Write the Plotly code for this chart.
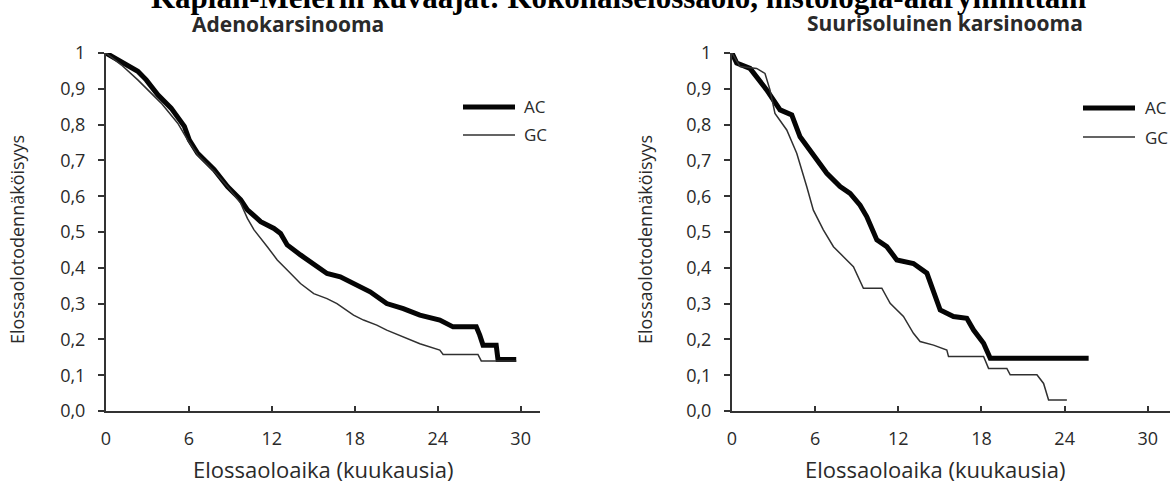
import plotly.graph_objects as go

# ---- data (months, survival probability) ----
adeno_ac_t = [0, 1.10, 2.30, 2.91, 3.75, 4.71, 5.67, 6.03, 6.63, 7.83, 8.79, 9.75, 10.23, 11.19, 12.15, 12.63,
              13.11, 14.07, 15.03, 15.99, 16.95, 17.91, 19.11, 20.31, 21.51, 22.71, 24.15, 25.11, 26.79, 27.04,
              27.28, 28.23, 28.36, 29.68]
adeno_ac_s = [1.0, 0.977, 0.949, 0.925, 0.883, 0.846, 0.795, 0.757, 0.720, 0.674, 0.627, 0.590, 0.562, 0.529,
              0.510, 0.496, 0.464, 0.436, 0.408, 0.384, 0.375, 0.356, 0.333, 0.300, 0.286, 0.268, 0.254, 0.235,
              0.235, 0.212, 0.184, 0.184, 0.144, 0.144]
adeno_gc_t = [0, 1.10, 2.30, 3.03, 3.99, 5.19, 5.91, 6.63, 7.83, 8.79, 9.75, 10.23, 10.71, 11.67, 12.39, 13.11,
              14.07, 15.03, 15.99, 16.71, 17.91, 18.63, 19.59, 20.31, 21.51, 22.71, 24.15, 24.39, 26.91, 27.15,
              29.68]
adeno_gc_s = [1.0, 0.967, 0.925, 0.897, 0.860, 0.804, 0.757, 0.715, 0.669, 0.627, 0.580, 0.538, 0.506, 0.459,
              0.422, 0.394, 0.356, 0.328, 0.314, 0.300, 0.268, 0.254, 0.240, 0.226, 0.207, 0.188, 0.170, 0.158,
              0.158, 0.140, 0.140]

large_ac_t = [0, 0.34, 1.30, 1.90, 2.50, 3.47, 4.31, 4.91, 6.11, 6.84, 7.80, 8.52, 9.24, 9.72, 10.45, 11.17,
              11.89, 13.09, 14.06, 14.54, 15.02, 15.98, 16.94, 17.43, 18.15, 18.63, 25.73]
large_ac_s = [1.0, 0.972, 0.957, 0.929, 0.897, 0.841, 0.827, 0.766, 0.706, 0.664, 0.627, 0.608, 0.575, 0.543,
              0.478, 0.459, 0.422, 0.412, 0.385, 0.329, 0.282, 0.264, 0.259, 0.226, 0.189, 0.147, 0.147]
large_gc_t = [0, 0.58, 1.78, 2.38, 2.74, 3.10, 3.95, 4.67, 5.39, 5.87, 6.59, 7.32, 8.04, 8.76, 9.48, 10.81,
              11.41, 12.37, 13.09, 13.57, 14.54, 15.50, 15.62, 18.15, 18.51, 19.83, 20.07, 22.00, 22.48, 22.84,
              24.16]
large_gc_s = [1.0, 0.962, 0.957, 0.943, 0.897, 0.831, 0.785, 0.720, 0.627, 0.561, 0.506, 0.459, 0.431, 0.403,
              0.343, 0.343, 0.301, 0.264, 0.217, 0.194, 0.184, 0.170, 0.152, 0.152, 0.119, 0.119, 0.101, 0.101,
              0.077, 0.031, 0.031]

series_names = ["AC", "GC"]
x_ticks = [0, 6, 12, 18, 24, 30]
y_ticks = [0, 0.1, 0.2, 0.3, 0.4, 0.5, 0.6, 0.7, 0.8, 0.9, 1.0]
y_tick_text = ["0,0", "0,1", "0,2", "0,3", "0,4", "0,5", "0,6", "0,7", "0,8", "0,9", "1"]

main_title = "Kaplan-Meierin kuvaajat: Kokonaiselossaolo, histologia-alaryhmittäin"
panel_titles = ["Adenokarsinooma", "Suurisoluinen karsinooma"]
x_title = "Elossaoloaika (kuukausia)"
y_title = "Elossaolotodennäköisyys"

W, H = 1170, 487
FONT = "Open Sans"
TXT = "#2a2a2a"
AC_COLOR, GC_COLOR = "#050505", "#303030"
AC_WIDTH, GC_WIDTH = 5, 1.5

fig = go.Figure()
panels = [
    (adeno_ac_t, adeno_ac_s, adeno_gc_t, adeno_gc_s, "x", "y"),
    (large_ac_t, large_ac_s, large_gc_t, large_gc_s, "x2", "y2"),
]
for act, acs, gct, gcs, xa, ya in panels:
    fig.add_trace(go.Scatter(x=act, y=acs, mode="lines", name=series_names[0], xaxis=xa, yaxis=ya,
                             showlegend=False, line=dict(color=AC_COLOR, width=AC_WIDTH), cliponaxis=False))
    fig.add_trace(go.Scatter(x=gct, y=gcs, mode="lines", name=series_names[1], xaxis=xa, yaxis=ya,
                             showlegend=False, line=dict(color=GC_COLOR, width=GC_WIDTH), cliponaxis=False))

ydom = [76 / H, 434 / H]
axis_common = dict(showline=True, linecolor="#333", linewidth=2, showgrid=False, zeroline=False,
                   automargin=False, tickcolor="#333", tickwidth=1.5,
                   tickfont=dict(family=FONT, size=18, color=TXT))

fig.update_layout(
    template="none",
    width=W, height=H,
    margin=dict(l=0, r=0, t=0, b=0, pad=0),
    paper_bgcolor="white", plot_bgcolor="white",
    showlegend=False,
    xaxis=dict(domain=[106 / W, 540 / W], range=[0, 31.4], anchor="y", tickvals=x_ticks,
               ticks="inside", ticklen=5, ticklabelstandoff=10, **axis_common),
    yaxis=dict(domain=ydom, range=[0, 1], anchor="x", tickvals=y_ticks, ticktext=y_tick_text,
               ticks="outside", ticklen=6, ticklabelstandoff=9, **axis_common),
    xaxis2=dict(domain=[732 / W, 1.0], range=[0, 31.6], anchor="y2", tickvals=x_ticks,
                ticks="inside", ticklen=5, ticklabelstandoff=10, **axis_common),
    yaxis2=dict(domain=ydom, range=[0, 1], anchor="x2", tickvals=y_ticks, ticktext=y_tick_text,
                ticks="outside", ticklen=6, ticklabelstandoff=9, **axis_common),
)

ann = []
shapes = []
ann.append(dict(text="<b>" + main_title + "</b>", x=618 / W, y=1 - 17 / H, xref="paper", yref="paper",
                xanchor="center", yanchor="bottom", showarrow=False,
                font=dict(family="Liberation Serif", size=31, color="black")))
for cx, cy, t in ((288, 24, panel_titles[0]), (945, 23, panel_titles[1])):
    ann.append(dict(text="<b>" + t + "</b>", x=cx / W, y=1 - cy / H, xref="paper", yref="paper",
                    xanchor="center", yanchor="middle", showarrow=False,
                    font=dict(family=FONT, size=21, color=TXT)))
for cx in (323, 935):
    ann.append(dict(text=x_title, x=cx / W, y=1 - 469 / H, xref="paper", yref="paper",
                    xanchor="center", yanchor="middle", showarrow=False,
                    font=dict(family=FONT, size=22, color=TXT)))
for cx in (17, 645):
    ann.append(dict(text=y_title, x=cx / W, y=1 - 240 / H, xref="paper", yref="paper", textangle=-90,
                    xanchor="center", yanchor="middle", showarrow=False,
                    font=dict(family=FONT, size=18, color=TXT)))

# legend keys (one per panel): line sample + label
legend_spots = [(463, 515, 522, 107, 135), (1083, 1135, 1143, 108, 137)]
for x0, x1, tx, y_ac, y_gc in legend_spots:
    for name, yy, col, wd in ((series_names[0], y_ac, AC_COLOR, AC_WIDTH), (series_names[1], y_gc, GC_COLOR, GC_WIDTH)):
        shapes.append(dict(type="line", xref="paper", yref="paper", x0=x0 / W, x1=x1 / W,
                           y0=1 - yy / H, y1=1 - yy / H, line=dict(color=col, width=wd)))
        ann.append(dict(text=name, x=tx / W, y=1 - yy / H, xref="paper", yref="paper",
                        xanchor="left", yanchor="middle", showarrow=False,
                        font=dict(family=FONT, size=17, color=TXT)))

fig.update_layout(annotations=ann, shapes=shapes)

fig.write_html("out.html", config={"displayModeBar": False},
               post_script="document.body.style.margin='0px';")
